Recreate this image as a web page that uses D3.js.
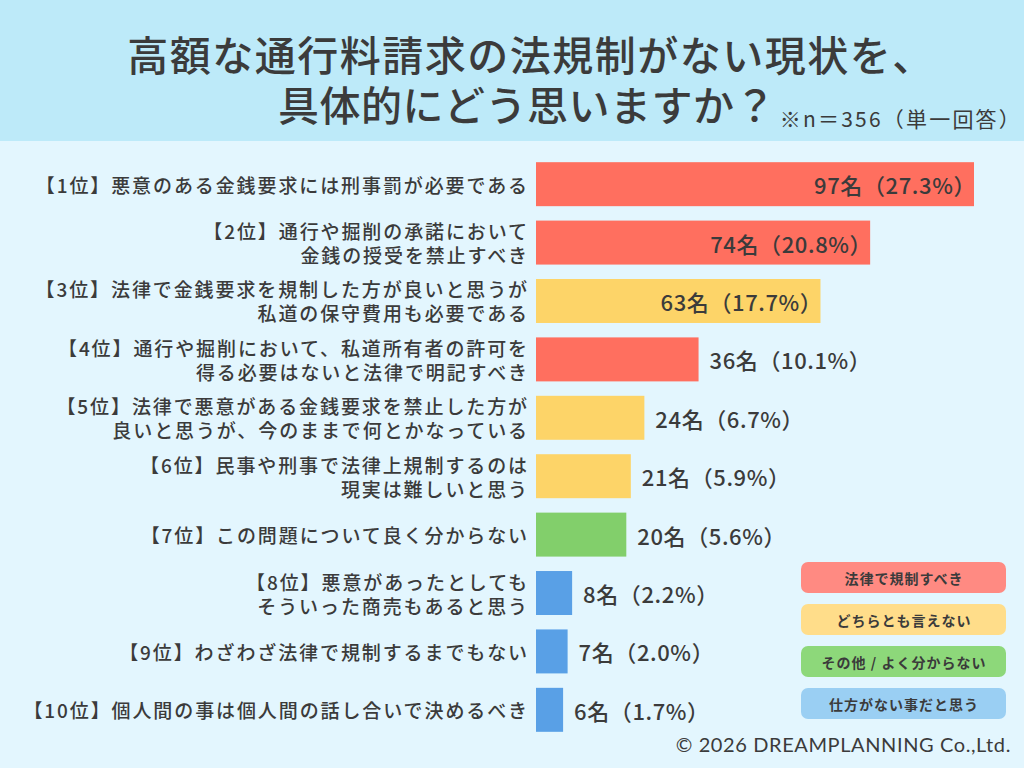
<!DOCTYPE html>
<html>
<head>
<meta charset="utf-8">
<script src="https://cdn.jsdelivr.net/npm/d3@7"></script>
<style>
  html, body { margin: 0; padding: 0; background: #e3f6fe; }
  svg { display: block; }
</style>
</head>
<body>
<svg id="chart" width="1024" height="768"></svg>
<script>
// Data
const titleLines = ['高額な通行料請求の法規制がない現状を、', '具体的にどう思いますか？'];
const note = '※n＝356（単一回答）';
const labels = [
    ['【1位】悪意のある金銭要求には刑事罰が必要である'],
    ['【2位】通行や掘削の承諾において', '金銭の授受を禁止すべき'],
    ['【3位】法律で金銭要求を規制した方が良いと思うが', '私道の保守費用も必要である'],
    ['【4位】通行や掘削において、私道所有者の許可を', '得る必要はないと法律で明記すべき'],
    ['【5位】法律で悪意がある金銭要求を禁止した方が', '良いと思うが、今のままで何とかなっている'],
    ['【6位】民事や刑事で法律上規制するのは', '現実は難しいと思う'],
    ['【7位】この問題について良く分からない'],
    ['【8位】悪意があったとしても', 'そういった商売もあると思う'],
    ['【9位】わざわざ法律で規制するまでもない'],
    ['【10位】個人間の事は個人間の話し合いで決めるべき']
];
const counts = [97, 74, 63, 36, 24, 21, 20, 8, 7, 6];
const percents = ['27.3', '20.8', '17.7', '10.1', '6.7', '5.9', '5.6', '2.2', '2.0', '1.7'];
const groups = ['law', 'law', 'neutral', 'law', 'neutral', 'neutral', 'other', 'ok', 'ok', 'ok'];
const legendKeys = ['law', 'neutral', 'other', 'ok'];
const legendLabels = ['法律で規制すべき', 'どちらとも言えない', 'その他 / よく分からない', '仕方がない事だと思う'];
const copyright = '© 2026 DREAMPLANNING Co.,Ltd.';

const barColor = d3.scaleOrdinal().domain(legendKeys)
    .range(['#ff6f5f', '#fdd468', '#82cf6b', '#59a0e6']);
const legendColor = d3.scaleOrdinal().domain(legendKeys)
    .range(['#ff8a82', '#ffdd8a', '#8dd87a', '#9acff3']);

const textColor = '#3b3b3b';
const font = '"Noto Sans CJK JP", "Noto Sans", sans-serif';

const svg = d3.select('#chart');

// Background
svg.append('rect').attr('width', 1024).attr('height', 768).attr('fill', '#e3f6fe');
svg.append('rect').attr('width', 1024).attr('height', 141).attr('fill', '#bdeaf9');

// Title
svg.selectAll('.title')
    .data(titleLines)
    .join('text')
    .attr('class', 'title')
    .attr('x', (d, i) => i === 0 ? 531 : 527)
    .attr('y', (d, i) => 53 + i * 50)
    .attr('text-anchor', 'middle')
    .attr('dominant-baseline', 'central')
    .attr('font-family', font)
    .attr('font-size', 41)
    .attr('font-weight', 500)
    .attr('letter-spacing', (d, i) => i === 0 ? 1.5 : 0.5)
    .attr('fill', textColor)
    .text(d => d);

svg.append('text')
    .attr('x', 1022)
    .attr('y', 118)
    .attr('text-anchor', 'end')
    .attr('dominant-baseline', 'central')
    .attr('font-family', font)
    .attr('font-size', 21)
    .attr('letter-spacing', 2.2)
    .attr('fill', textColor)
    .text(note);

// Scales
const x = d3.scaleLinear()
    .domain([0, d3.max(counts)])
    .range([536, 974]);

const y = d3.scaleBand()
    .domain(d3.range(counts.length))
    .range([155, 739])
    .paddingInner(0.247)
    .paddingOuter(0.123);

const rows = counts.map((c, i) => ({ i, count: c, pct: percents[i], group: groups[i], label: labels[i] }));

// Bars
svg.selectAll('.bar')
    .data(rows)
    .join('rect')
    .attr('class', 'bar')
    .attr('x', x(0))
    .attr('y', d => y(d.i))
    .attr('width', d => x(d.count) - x(0))
    .attr('height', y.bandwidth())
    .attr('fill', d => barColor(d.group));

// Category labels
const cat = svg.selectAll('.cat')
    .data(rows)
    .join('text')
    .attr('class', 'cat')
    .attr('text-anchor', 'end')
    .attr('font-family', font)
    .attr('font-size', 19)
    .attr('font-weight', 500)
    .attr('letter-spacing', 1.9)
    .attr('fill', textColor);

cat.selectAll('tspan')
    .data(d => d.label.map((t, k) => ({ t, k, n: d.label.length, i: d.i })))
    .join('tspan')
    .attr('x', 529)
    .attr('y', d => y(d.i) + y.bandwidth() / 2 + (d.k - (d.n - 1) / 2) * 24)
    .attr('dominant-baseline', 'central')
    .text(d => d.t);

// Value labels: inside for long bars, outside for short ones
svg.selectAll('.val')
    .data(rows)
    .join('text')
    .attr('class', 'val')
    .attr('x', d => d.count > 50 ? x(d.count) + 2 : x(d.count) + 11)
    .attr('y', d => y(d.i) + y.bandwidth() / 2)
    .attr('text-anchor', d => d.count > 50 ? 'end' : 'start')
    .attr('dominant-baseline', 'central')
    .attr('font-family', font)
    .attr('font-size', 22)
    .attr('font-weight', 500)
    .attr('letter-spacing', 0.6)
    .attr('fill', textColor)
    .text(d => `${d.count}名（${d.pct}%）`);

// Legend
const legend = svg.selectAll('.legend')
    .data(legendKeys)
    .join('g')
    .attr('class', 'legend')
    .attr('transform', (d, i) => `translate(801, ${562 + i * 42})`);

legend.append('rect')
    .attr('width', 205)
    .attr('height', 31)
    .attr('rx', 7)
    .attr('fill', d => legendColor(d));

legend.append('text')
    .attr('x', 103)
    .attr('y', 15.5)
    .attr('text-anchor', 'middle')
    .attr('dominant-baseline', 'central')
    .attr('font-family', font)
    .attr('font-size', 14)
    .attr('font-weight', 700)
    .attr('letter-spacing', 1)
    .attr('fill', textColor)
    .text((d, i) => legendLabels[i]);

// Copyright
svg.append('text')
    .attr('x', 1011)
    .attr('y', 744)
    .attr('text-anchor', 'end')
    .attr('dominant-baseline', 'central')
    .attr('font-family', 'Lato, "Noto Sans", sans-serif')
    .attr('font-size', 20)
    .attr('letter-spacing', 0.6)
    .attr('fill', textColor)
    .text(copyright);
</script>
</body>
</html>
